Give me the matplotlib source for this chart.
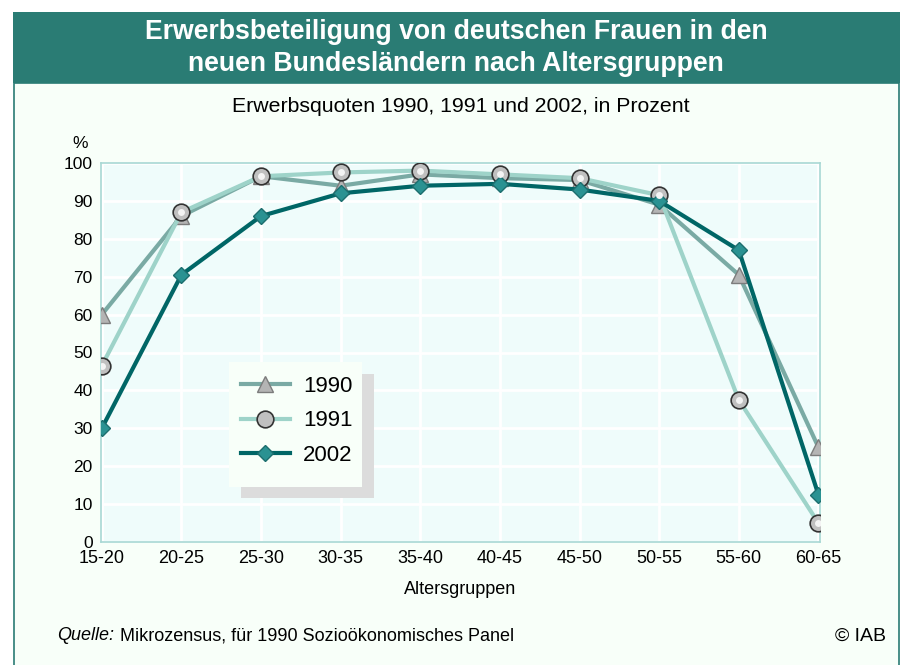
import numpy as np
import matplotlib.pyplot as plt
from matplotlib.patches import Rectangle

plt.rcParams['font.family'] = ['Liberation Sans', 'DejaVu Sans']

# ---------------- data ----------------
groups = ['15-20', '20-25', '25-30', '30-35', '35-40',
          '40-45', '45-50', '50-55', '55-60', '60-65']
q1990 = [60, 86, 96.5, 94, 97, 96, 95.5, 89, 70.5, 25]
q1991 = [46.5, 87, 96.5, 97.5, 98, 97, 96, 91.5, 37.5, 5]
q2002 = [30, 70.5, 86, 92, 94, 94.5, 93, 90, 77, 12.5]
yticks = [0, 10, 20, 30, 40, 50, 60, 70, 80, 90, 100]

bg = '#f8fff9'
teal = '#2a7c74'

fig = plt.figure(figsize=(9, 6.65), dpi=100)
fig.patch.set_facecolor('white')

# panel + header band
fig.patches.append(Rectangle((14 / 900, -0.02), 885 / 900, 1.02 - 83 / 665,
                             transform=fig.transFigure, facecolor=bg,
                             edgecolor=teal, linewidth=1.2, zorder=-2))
fig.patches.append(Rectangle((13 / 900, 1 - 83 / 665), 887 / 900, 71 / 665,
                             transform=fig.transFigure, facecolor=teal,
                             edgecolor='none', zorder=-1))
fig.text(0.507, 1 - 32 / 665, 'Erwerbsbeteiligung von deutschen Frauen in den',
         ha='center', va='center', color='white', fontsize=19.2, fontweight='bold')
fig.text(0.507, 1 - 64 / 665, 'neuen Bundesländern nach Altersgruppen',
         ha='center', va='center', color='white', fontsize=19.2, fontweight='bold')
fig.text(461 / 900, 1 - 107 / 665, 'Erwerbsquoten 1990, 1991 und 2002, in Prozent',
         ha='center', va='center', fontsize=15.3)

ax = fig.add_axes([101 / 900, 1 - 542 / 665, 719 / 900, 379 / 665])
ax.set_facecolor('#effcfb')
x = np.arange(len(groups))

ax.plot(x, q1990, color='#7aaaa4', lw=3, zorder=3, label='1990',
        marker='^', ms=11, mfc='#b4b4b4', mec='#7c7c7c', mew=1)
ax.plot(x, q1991, color='#9ed3c9', lw=3, zorder=3, label='1991',
        marker='o', ms=12, mfc='#c0c0c0', mec='#333333', mew=1.2)
ax.plot(x, q1991, ls='none', marker='o', ms=5, mfc='#f4f4f4', mec='none',
        zorder=4)
ax.plot(x, q2002, color='#006666', lw=3, zorder=3, label='2002',
        marker='D', ms=8, mfc='#2a9292', mec='#1c6e6e', mew=1)

ax.set_xlim(-0.01, 9.02)
ax.set_ylim(0, 100)
ax.set_xticks(x)
ax.set_xticklabels(groups, fontsize=13)
ax.set_yticks(yticks)
ax.set_yticklabels([str(v) for v in yticks], fontsize=12.5)
ax.tick_params(length=0, pad=6)
ax.grid(True, color='white', lw=2)
ax.set_axisbelow(True)
for s in ax.spines.values():
    s.set_color('#a8d8d4')
    s.set_linewidth(1.2)
ax.set_xlabel('Altersgruppen', fontsize=13, labelpad=10)
fig.text(80 / 900, 1 - 143 / 665, '%', ha='center', va='center', fontsize=12.5)

# legend box with shadow
ax.add_patch(Rectangle((241 / 900, 1 - 498 / 665), 133 / 900, 124 / 665,
                       transform=fig.transFigure, facecolor='#dcdcdc',
                       edgecolor='none', zorder=5))
ax.add_patch(Rectangle((229 / 900, 1 - 487 / 665), 133 / 900, 125 / 665,
                       transform=fig.transFigure, facecolor=bg,
                       edgecolor='none', zorder=5))
ax.legend(loc='upper left', bbox_to_anchor=(241 / 900, 1 - 376 / 665),
          bbox_transform=fig.transFigure, frameon=False, fontsize=16,
          handlelength=2.2, labelspacing=0.6, handletextpad=0.6,
          borderaxespad=0, borderpad=0)

fig.text(57 / 900, 1 - 636 / 665, 'Quelle:', ha='left', va='center',
         fontsize=13, style='italic')
fig.text(120 / 900, 1 - 636 / 665,
         'Mikrozensus, für 1990 Sozioökonomisches Panel',
         ha='left', va='center', fontsize=13)
fig.text(886 / 900, 1 - 636 / 665, '© IAB', ha='right', va='center',
         fontsize=14)

fig.savefig('out.png', dpi=100, facecolor=fig.get_facecolor())
